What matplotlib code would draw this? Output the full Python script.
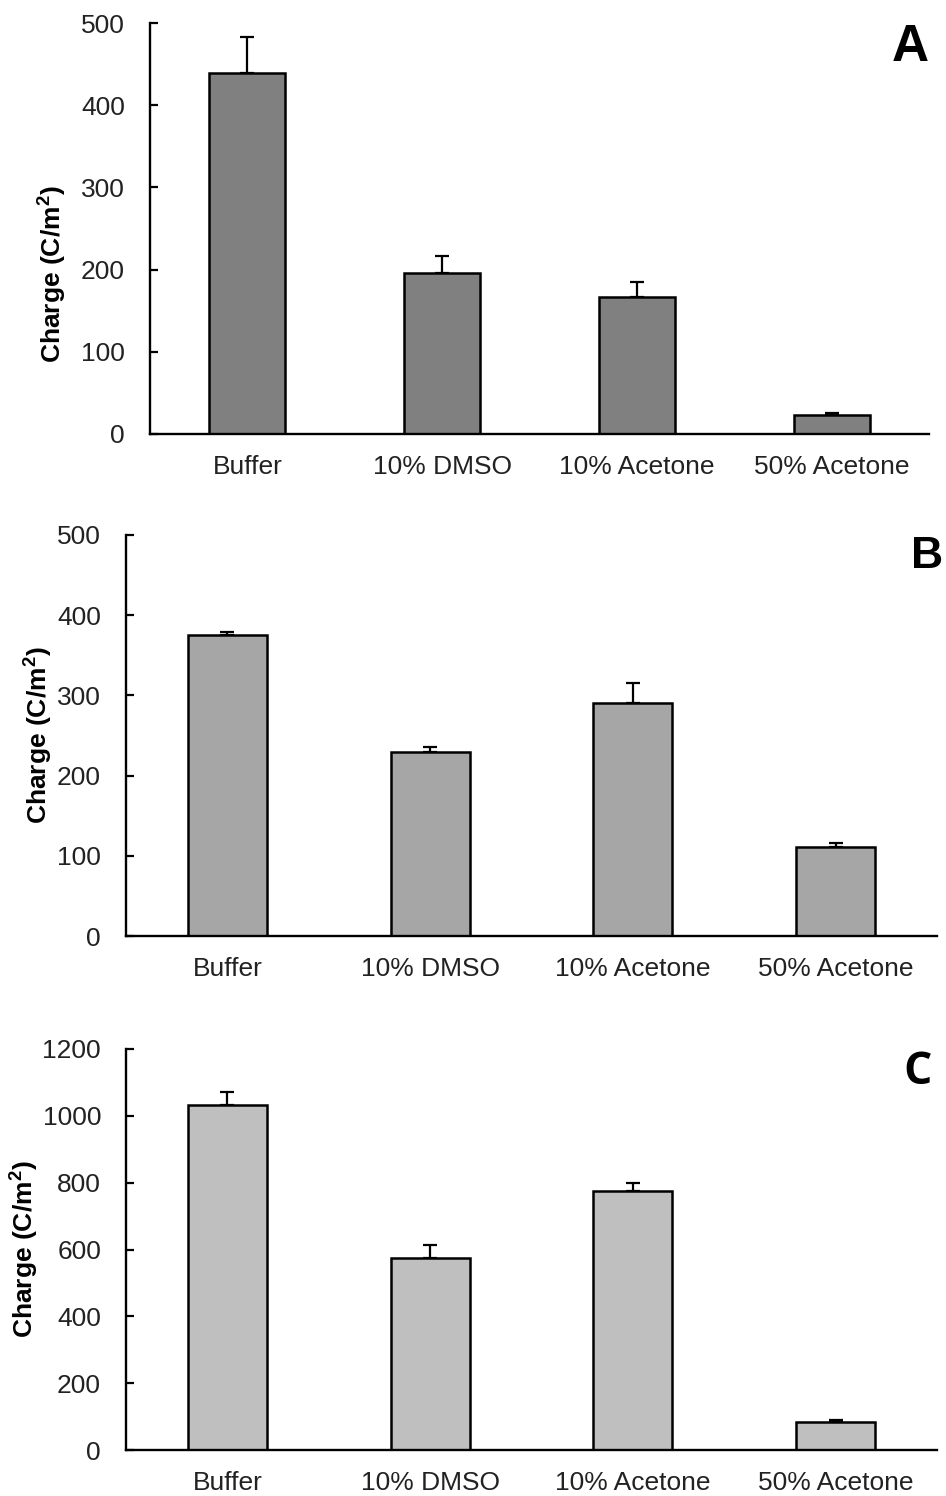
import numpy as np
import matplotlib.pyplot as plt

# solvents tested
categories = ["Buffer", "10% DMSO", "10% Acetone", "50% Acetone"]

# charge (C/m2) and upper error, one set per panel
charge_a = [439, 196, 167, 23]
err_a = [44, 21, 18, 2]

charge_b = [375, 229, 291, 111]
err_b = [4, 7, 24, 5]

charge_c = [1032, 575, 775, 83]
err_c = [39, 39, 23, 6]

panel_letters = ["A", "B", "C"]
ylims = [500, 500, 1200]
ysteps = [100, 100, 200]
bar_colors = ["#808080", "#a6a6a6", "#bfbfbf"]

plt.rcParams['font.family'] = ['Liberation Sans', 'DejaVu Sans']

fig = plt.figure(figsize=(9.46, 14.96), dpi=100)
# axes boxes in figure fractions [left, bottom, width, height]
boxes = [[0.1586, 0.7099, 0.8235, 0.2747],
         [0.1332, 0.3743, 0.8573, 0.2681],
         [0.1332, 0.0307, 0.8573, 0.2681]]
label_pos = [(-0.105, 0.39), (-0.089, 0.5), (-0.106, 0.5)]
letter_pos = [(0.962, 0.968), (0.98, 0.628), (0.97, 0.283)]
letter_font = [('Liberation Sans', 37), ('Liberation Sans', 32), ('Open Sans', 32)]

values = [charge_a, charge_b, charge_c]
errors = [err_a, err_b, err_c]

x = np.arange(len(categories))
for i in range(3):
    ax = fig.add_axes(boxes[i])
    ax.bar(x, values[i], width=0.39, color=bar_colors[i], edgecolor="black",
           linewidth=1.8, zorder=2)
    # only the upper half of the error bar is shown
    ax.errorbar(x, values[i], yerr=[np.zeros(4), errors[i]], fmt="none",
                ecolor="black", elinewidth=1.6, capsize=5, capthick=1.6, zorder=1)
    ax.set_xlim(-0.5, 3.5)
    ax.set_ylim(0, ylims[i])
    ax.set_yticks(np.arange(0, ylims[i] + 1, ysteps[i]))
    ax.set_xticks(x)
    ax.set_xticklabels(categories)
    ax.tick_params(axis="y", direction="in", length=6, width=1.6, labelsize=19,
                   pad=18, labelcolor="#222222")
    ax.tick_params(axis="x", length=0, labelsize=19, pad=15, labelcolor="#222222")
    for s in ["top", "right"]:
        ax.spines[s].set_visible(False)
    for s in ["left", "bottom"]:
        ax.spines[s].set_linewidth(1.7)
    ax.set_ylabel("Charge (C/m$^\\mathregular{2}$)", fontsize=19, fontweight="bold")
    ax.yaxis.set_label_coords(*label_pos[i])
    fam, size = letter_font[i]
    fig.text(letter_pos[i][0], letter_pos[i][1], panel_letters[i], ha="center",
             va="center", fontsize=size, fontweight="bold", family=fam)

plt.savefig("out.png", dpi=100)
